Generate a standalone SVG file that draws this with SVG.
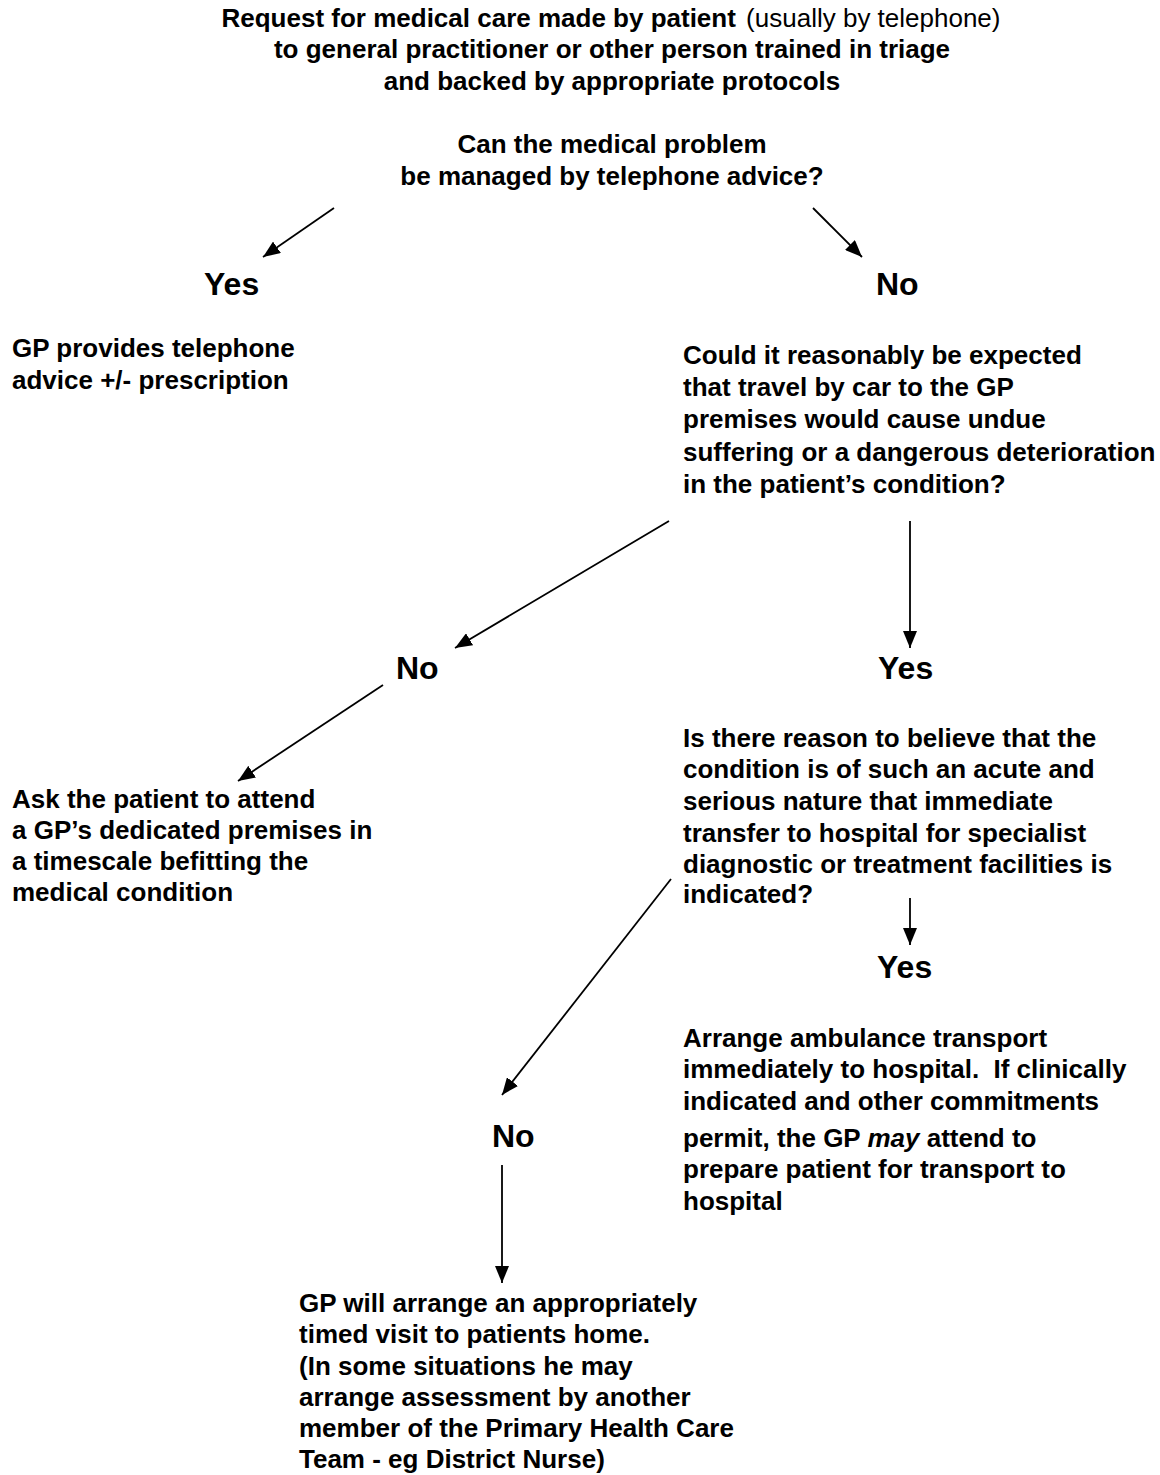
<svg xmlns="http://www.w3.org/2000/svg" width="1160" height="1475" viewBox="0 0 1160 1475">
<style>
  text { font-family: "Liberation Sans", Arial, sans-serif; font-weight: bold; font-size: 26px; fill: #000; }
  .lbl { font-size: 32px; }
  .reg { font-weight: normal; }
  .c { text-anchor: middle; }
  .conn line { stroke: #000; stroke-width: 1.8; fill: none; marker-end: url(#ah); }
</style>
<defs>
  <marker id="ah" markerUnits="userSpaceOnUse" markerWidth="17" markerHeight="14" viewBox="0 0 17 14" refX="17" refY="7" orient="auto">
    <path d="M0,0 L17,7 L0,14 z" fill="#000"/>
  </marker>
</defs>
<rect width="1160" height="1475" fill="#fff"/>

<g id="request">
  <text class="c" x="611" y="27">Request for medical care made by patient <tspan class="reg" dx="3">(usually by telephone)</tspan></text>
  <text class="c" x="612" y="58">to general practitioner or other person trained in triage</text>
  <text class="c" x="612" y="90">and backed by appropriate protocols</text>
</g>
<g id="q1">
  <text class="c" x="612" y="153">Can the medical problem</text>
  <text class="c" x="612" y="185">be managed by telephone advice?</text>
</g>
<g id="yes1"><text class="lbl" x="204" y="295">Yes</text></g>
<g id="no1"><text class="lbl" x="876" y="295">No</text></g>
<g id="gp-advice">
  <text x="12" y="357">GP provides telephone</text>
  <text x="12" y="389">advice +/- prescription</text>
</g>
<g id="q2">
  <text x="683" y="364">Could it reasonably be expected</text>
  <text x="683" y="396">that travel by car to the GP</text>
  <text x="683" y="428">premises would cause undue</text>
  <text x="683" y="461">suffering or a dangerous deterioration</text>
  <text x="683" y="493">in the patient’s condition?</text>
</g>
<g id="no2"><text class="lbl" x="396" y="679">No</text></g>
<g id="yes2"><text class="lbl" x="878" y="679">Yes</text></g>
<g id="attend">
  <text x="12" y="808">Ask the patient to attend</text>
  <text x="12" y="839">a GP’s dedicated premises in</text>
  <text x="12" y="870">a timescale befitting the</text>
  <text x="12" y="901">medical condition</text>
</g>
<g id="q3">
  <text x="683" y="747">Is there reason to believe that the</text>
  <text x="683" y="778">condition is of such an acute and</text>
  <text x="683" y="810">serious nature that immediate</text>
  <text x="683" y="842">transfer to hospital for specialist</text>
  <text x="683" y="873">diagnostic or treatment facilities is</text>
  <text x="683" y="903">indicated?</text>
</g>
<g id="yes3"><text class="lbl" x="877" y="978">Yes</text></g>
<g id="ambulance">
  <text x="683" y="1047">Arrange ambulance transport</text>
  <text x="683" y="1078">immediately to hospital. <tspan dx="7">If clinically</tspan></text>
  <text x="683" y="1110">indicated and other commitments</text>
  <text x="683" y="1147">permit, the GP <tspan font-style="italic">may</tspan> attend to</text>
  <text x="683" y="1178">prepare patient for transport to</text>
  <text x="683" y="1210">hospital</text>
</g>
<g id="no3"><text class="lbl" x="492" y="1147">No</text></g>
<g id="home-visit">
  <text x="299" y="1312">GP will arrange an appropriately</text>
  <text x="299" y="1343">timed visit to patients home.</text>
  <text x="299" y="1375">(In some situations he may</text>
  <text x="299" y="1406">arrange assessment by another</text>
  <text x="299" y="1437">member of the Primary Health Care</text>
  <text x="299" y="1468">Team - eg District Nurse)</text>
</g>

<g id="connectors" class="conn">
  <line x1="334" y1="208" x2="263" y2="257"/>
  <line x1="813" y1="208" x2="862" y2="257"/>
  <line x1="669" y1="521" x2="455" y2="648"/>
  <line x1="910" y1="521" x2="910" y2="648"/>
  <line x1="383" y1="685" x2="238" y2="781"/>
  <line x1="671" y1="879" x2="502" y2="1095"/>
  <line x1="910" y1="898" x2="910" y2="945"/>
  <line x1="502" y1="1165" x2="502" y2="1283"/>
</g>
</svg>
